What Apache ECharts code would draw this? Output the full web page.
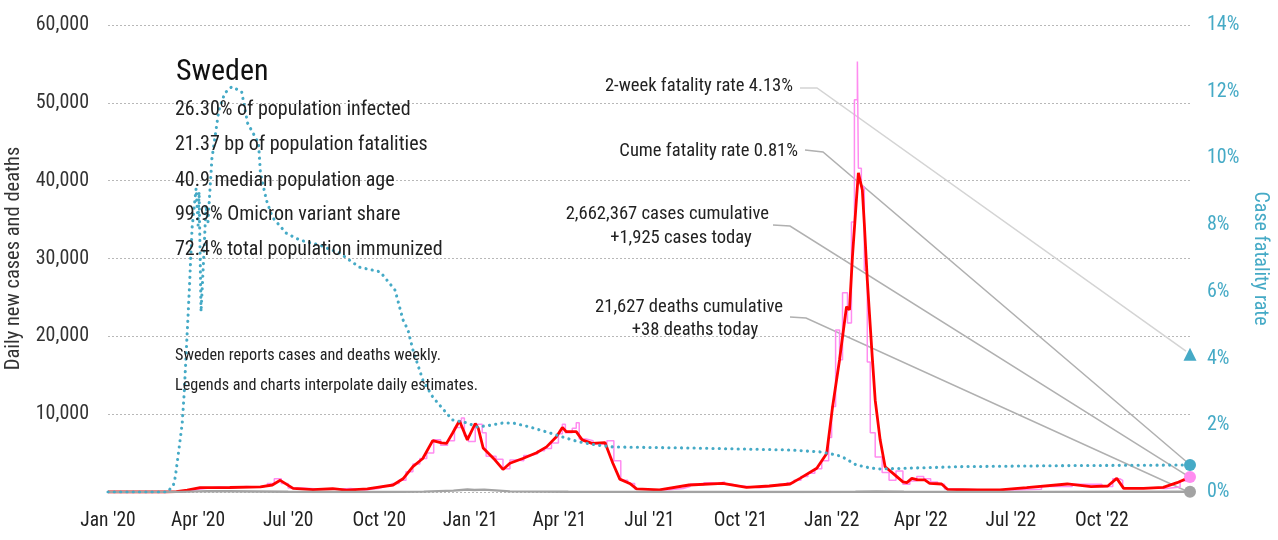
<!DOCTYPE html>
<html>
<head>
<meta charset="utf-8">
<script src="https://cdn.jsdelivr.net/npm/echarts@6/dist/echarts.min.js"></script>
<style>
  html, body { margin: 0; padding: 0; background: #ffffff; }
  #chart { width: 1278px; height: 540px; }
</style>
</head>
<body>
<div id="chart"></div>
<script>
// Sweden: daily new cases (raw weekly-reported and smoothed), daily deaths, case fatality rate

const FONT_FAMILY = '"Roboto Condensed", "DejaVu Sans Condensed", "Roboto", sans-serif';

const monthNames = ['Jan', 'Feb', 'Mar', 'Apr', 'May', 'Jun', 'Jul', 'Aug', 'Sep', 'Oct', 'Nov', 'Dec'];
const leftTicks = [0, 10000, 20000, 30000, 40000, 50000, 60000];
const rightTicks = [0, 2, 4, 6, 8, 10, 12, 14];

// Daily new cases, 7-day average
const casesAvg = [
  ['2020-01-01', 0], ['2020-02-27', 0], ['2020-03-10', 50], ['2020-03-21', 250],
  ['2020-04-03', 550], ['2020-05-03', 580], ['2020-06-03', 650], ['2020-06-15', 900],
  ['2020-06-23', 1500], ['2020-07-06', 470], ['2020-07-26', 300], ['2020-08-15', 420],
  ['2020-08-29', 250], ['2020-09-19', 400], ['2020-09-29', 600], ['2020-10-15', 900],
  ['2020-10-25', 1700], ['2020-11-04', 3250], ['2020-11-14', 4300], ['2020-11-24', 6600],
  ['2020-12-03', 6300], ['2020-12-08', 6250], ['2020-12-14', 7550], ['2020-12-21', 9150],
  ['2020-12-29', 6700], ['2021-01-06', 8800], ['2021-01-09', 8200], ['2021-01-14', 5650],
  ['2021-01-21', 4750], ['2021-01-26', 4100], ['2021-02-03', 2900], ['2021-02-10', 3700],
  ['2021-02-23', 4300], ['2021-03-09', 5050], ['2021-03-19', 5800], ['2021-03-29', 7100],
  ['2021-04-04', 8300], ['2021-04-08', 7750], ['2021-04-18', 7750], ['2021-04-24', 6700],
  ['2021-05-04', 6250], ['2021-05-17', 6350], ['2021-05-25', 3700], ['2021-06-01', 1650],
  ['2021-06-11', 1100], ['2021-06-18', 400], ['2021-07-11', 260], ['2021-08-10', 900],
  ['2021-09-13', 1100], ['2021-10-07', 600], ['2021-10-30', 770], ['2021-11-20', 1030],
  ['2021-11-30', 1750], ['2021-12-17', 3050], ['2021-12-27', 4950], ['2022-01-02', 11000],
  ['2022-01-09', 17000], ['2022-01-16', 23800], ['2022-01-19', 23400], ['2022-01-22', 30200],
  ['2022-01-26', 37500], ['2022-01-28', 41000], ['2022-02-01', 38800], ['2022-02-03', 34500],
  ['2022-02-06', 27250], ['2022-02-11', 17400], ['2022-02-14', 11800], ['2022-02-19', 6700],
  ['2022-02-24', 3250], ['2022-03-04', 2400], ['2022-03-14', 1300], ['2022-03-18', 1200],
  ['2022-03-23', 1750], ['2022-03-29', 1550], ['2022-04-05', 1550], ['2022-04-10', 1100],
  ['2022-04-22', 1030], ['2022-04-28', 350], ['2022-05-28', 260], ['2022-06-20', 260],
  ['2022-07-17', 550], ['2022-08-27', 1030], ['2022-09-20', 680], ['2022-10-07', 770],
  ['2022-10-16', 1750], ['2022-10-23', 470], ['2022-11-12', 470], ['2022-12-02', 600],
  ['2022-12-16', 1200], ['2022-12-29', 1925]
];

// Daily new cases as reported (weekly steps)
const casesRaw = [
  ['2020-01-01', 0], ['2020-03-01', 0], ['2020-03-15', 200], ['2020-03-25', 450],
  ['2020-04-08', 650], ['2020-04-22', 550], ['2020-05-06', 700], ['2020-05-20', 600],
  ['2020-06-03', 800], ['2020-06-10', 1100], ['2020-06-17', 1700], ['2020-06-24', 1100],
  ['2020-07-01', 500], ['2020-07-15', 350], ['2020-08-05', 350], ['2020-08-19', 450],
  ['2020-09-02', 250], ['2020-09-16', 450], ['2020-09-30', 700], ['2020-10-07', 800],
  ['2020-10-14', 1100], ['2020-10-21', 1500], ['2020-10-28', 2600], ['2020-11-04', 3600],
  ['2020-11-11', 4300], ['2020-11-18', 5000], ['2020-11-25', 6700], ['2020-12-02', 6000],
  ['2020-12-09', 6600], ['2020-12-16', 8300], ['2020-12-23', 9500], ['2020-12-26', 7200],
  ['2020-12-30', 6500], ['2021-01-06', 8700], ['2021-01-13', 7600], ['2021-01-17', 4600],
  ['2021-01-27', 4200], ['2021-02-03', 3000], ['2021-02-10', 4100], ['2021-02-17', 4000],
  ['2021-02-24', 4700], ['2021-03-03', 4900], ['2021-03-10', 5300], ['2021-03-17', 5600],
  ['2021-03-24', 6300], ['2021-03-31', 7500], ['2021-04-04', 8700], ['2021-04-07', 7600],
  ['2021-04-14', 8200], ['2021-04-18', 8900], ['2021-04-21', 6800], ['2021-04-28', 6600],
  ['2021-05-05', 6200], ['2021-05-12', 6100], ['2021-05-19', 6600], ['2021-05-26', 4000],
  ['2021-06-02', 1500], ['2021-06-09', 1100], ['2021-06-16', 400], ['2021-06-23', 250],
  ['2021-07-07', 300], ['2021-07-21', 450], ['2021-08-04', 700], ['2021-08-11', 1000],
  ['2021-08-18', 900], ['2021-08-25', 1200], ['2021-09-01', 1100], ['2021-09-08', 1300],
  ['2021-09-15', 1000], ['2021-09-22', 800], ['2021-09-29', 750], ['2021-10-06', 550],
  ['2021-10-20', 650], ['2021-10-27', 800], ['2021-11-03', 1000], ['2021-11-10', 900],
  ['2021-11-17', 1200], ['2021-11-24', 1500], ['2021-12-01', 2000], ['2021-12-08', 2400],
  ['2021-12-15', 3000], ['2021-12-22', 4000], ['2021-12-29', 7000], ['2022-01-01', 11000],
  ['2022-01-05', 20800], ['2022-01-09', 17000], ['2022-01-12', 25600], ['2022-01-17', 21700],
  ['2022-01-21', 34700], ['2022-01-24', 50400], ['2022-01-27', 55300], ['2022-01-28', 41600],
  ['2022-01-31', 39200], ['2022-02-03', 28500], ['2022-02-06', 16700], ['2022-02-09', 7600],
  ['2022-02-14', 4500], ['2022-02-21', 2500], ['2022-02-28', 1500], ['2022-03-07', 2700],
  ['2022-03-14', 1000], ['2022-03-21', 1400], ['2022-03-28', 2000], ['2022-04-04', 1700],
  ['2022-04-11', 1300], ['2022-04-18', 1000], ['2022-04-25', 400], ['2022-05-02', 300],
  ['2022-06-01', 250], ['2022-07-01', 350], ['2022-08-01', 700], ['2022-09-01', 1000],
  ['2022-10-01', 700], ['2022-10-12', 1700], ['2022-10-19', 1500], ['2022-10-22', 500],
  ['2022-11-15', 450], ['2022-12-05', 650], ['2022-12-19', 1400], ['2022-12-29', 1925]
];

// Daily deaths
const deaths = [
  ['2020-01-01', 0], ['2020-03-15', 10], ['2020-04-10', 110], ['2020-05-01', 90],
  ['2020-06-01', 60], ['2020-07-01', 30], ['2020-08-01', 8], ['2020-10-01', 4],
  ['2020-11-15', 50], ['2020-12-15', 180], ['2020-12-29', 320], ['2021-01-05', 260],
  ['2021-01-15', 300], ['2021-02-10', 80], ['2021-04-10', 30], ['2021-06-01', 12],
  ['2021-08-01', 3], ['2021-12-01', 8], ['2022-01-25', 40], ['2022-02-15', 70],
  ['2022-03-15', 40], ['2022-05-01', 15], ['2022-08-01', 10], ['2022-12-29', 38]
];

// Case fatality rate, percent
const fatalityRate = [
  ['2020-01-01', 0], ['2020-03-01', 0], ['2020-03-07', 0.2], ['2020-03-09', 0.45],
  ['2020-03-13', 1.36], ['2020-03-16', 2.07], ['2020-03-18', 2.97], ['2020-03-23', 5.96],
  ['2020-03-26', 7.94], ['2020-03-30', 9.1], ['2020-04-01', 8.0], ['2020-04-02', 9.0],
  ['2020-04-04', 5.4], ['2020-04-07', 7.2], ['2020-04-09', 8.6], ['2020-04-11', 8.1],
  ['2020-04-15', 10.0], ['2020-04-22', 11.45], ['2020-04-28', 11.96], ['2020-05-05', 12.15],
  ['2020-05-15', 12.0], ['2020-05-21', 11.06], ['2020-06-01', 10.46], ['2020-06-03', 9.56],
  ['2020-06-09', 8.75], ['2020-06-15', 8.24], ['2020-06-29', 7.76], ['2020-07-13', 7.55],
  ['2020-08-02', 7.4], ['2020-08-22', 7.16], ['2020-09-11', 6.74], ['2020-10-02', 6.6],
  ['2020-10-17', 6.05], ['2020-10-25', 5.16], ['2020-10-30', 4.86], ['2020-11-04', 4.26],
  ['2020-11-14', 3.36], ['2020-11-24', 2.85], ['2020-12-04', 2.5], ['2020-12-14', 2.16],
  ['2020-12-29', 2.07], ['2021-01-08', 1.95], ['2021-01-21', 2.0], ['2021-02-03', 2.07],
  ['2021-02-13', 2.07], ['2021-03-02', 1.95], ['2021-03-19', 1.8], ['2021-04-04', 1.65],
  ['2021-04-21', 1.5], ['2021-05-08', 1.41], ['2021-05-25', 1.35], ['2021-08-10', 1.32],
  ['2021-11-20', 1.26], ['2021-12-21', 1.2], ['2022-01-06', 1.11], ['2022-01-12', 1.05],
  ['2022-01-26', 0.81], ['2022-02-09', 0.72], ['2022-02-19', 0.69], ['2022-05-11', 0.76],
  ['2022-08-20', 0.79], ['2022-12-29', 0.81]
];

// Latest values shown at the right edge
const lastDate = '2022-12-29';
const twoWeekRate = 4.13;
const cumeRate = 0.81;
const casesToday = 1925;
const deathsToday = 38;

const statLines = [
  '26.30% of population infected',
  '21.37 bp of population fatalities',
  '40.9 median population age',
  '99.9% Omicron variant share',
  '72.4% total population immunized'
];
const noteLines = [
  'Sweden reports cases and deaths weekly.',
  'Legends and charts interpolate daily estimates.'
];

const BLUE = '#45aac6';
const PINK = '#ff8cf0';
const RED = '#ff0000';
const GREY = '#a3a3a3';
const INK = '#222222';

const chart = echarts.init(document.getElementById('chart'), null, { renderer: 'canvas' });

const option = {
  animation: false,
  backgroundColor: '#ffffff',
  textStyle: { fontFamily: FONT_FAMILY },
  grid: { left: 108, right: 88, top: 25, bottom: 48, containLabel: false, outerBoundsMode: 'none' },
  xAxis: {
    type: 'time',
    min: +new Date(2020, 0, 1),
    max: +new Date(2022, 11, 29),
    splitNumber: 12,
    axisLine: { show: false },
    axisTick: { show: false },
    splitLine: { show: false },
    axisLabel: {
      color: INK,
      fontSize: 19.5,
      fontFamily: FONT_FAMILY,
      margin: 19,
      hideOverlap: false,
      formatter: function (val) {
        const d = new Date(val);
        if (d.getDate() !== 1 || d.getMonth() % 3 !== 0) return '';
        return monthNames[d.getMonth()] + " '" + String(d.getFullYear()).slice(2);
      }
    }
  },
  yAxis: [
    {
      type: 'value',
      min: leftTicks[0],
      max: leftTicks[leftTicks.length - 1],
      interval: leftTicks[1] - leftTicks[0],
      name: 'Daily new cases and deaths',
      nameLocation: 'middle',
      nameGap: 75,
      nameRotate: 90,
      nameTextStyle: { color: '#333', fontSize: 20.5, fontFamily: FONT_FAMILY },
      axisLine: { show: false },
      axisTick: { show: false },
      axisLabel: {
        color: '#333',
        fontSize: 20,
        fontFamily: FONT_FAMILY,
        margin: 19,
        formatter: function (v) { return v === 0 ? '' : v.toLocaleString('en-US'); }
      },
      splitLine: { show: true, lineStyle: { color: '#b8b8b8', type: [2, 2], width: 1 } }
    },
    {
      type: 'value',
      position: 'right',
      min: rightTicks[0],
      max: rightTicks[rightTicks.length - 1],
      interval: rightTicks[1] - rightTicks[0],
      name: 'Case fatality rate',
      nameLocation: 'middle',
      nameGap: 55,
      nameRotate: -90,
      nameTextStyle: { color: BLUE, fontSize: 20, fontFamily: FONT_FAMILY },
      axisLine: { show: false },
      axisTick: { show: false },
      axisLabel: {
        color: BLUE,
        fontSize: 20,
        fontFamily: FONT_FAMILY,
        margin: 17,
        formatter: '{value}%'
      },
      splitLine: { show: false }
    }
  ],
  series: [
    {
      name: 'Cases reported',
      type: 'line',
      step: 'end',
      data: casesRaw,
      yAxisIndex: 0,
      symbol: 'none',
      lineStyle: { color: PINK, width: 1.5 },
      z: 2
    },
    {
      name: 'Cases 7-day average',
      type: 'line',
      data: casesAvg,
      yAxisIndex: 0,
      symbol: 'none',
      lineStyle: { color: RED, width: 2.8 },
      z: 3
    },
    {
      name: 'Deaths',
      type: 'line',
      data: deaths,
      yAxisIndex: 0,
      symbol: 'none',
      lineStyle: { color: GREY, width: 2.4 },
      z: 3
    },
    {
      name: 'Case fatality rate',
      type: 'line',
      data: fatalityRate,
      yAxisIndex: 1,
      symbol: 'none',
      lineStyle: { color: BLUE, width: 3.1, type: [0.1, 6.2], cap: 'round' },
      z: 4
    },
    {
      name: '2-week fatality rate',
      type: 'scatter',
      yAxisIndex: 1,
      data: [[lastDate, twoWeekRate]],
      symbol: 'triangle',
      symbolSize: 13,
      itemStyle: { color: BLUE, opacity: 1 },
      z: 6
    },
    {
      name: 'Cume fatality rate',
      type: 'scatter',
      yAxisIndex: 1,
      data: [[lastDate, cumeRate]],
      symbol: 'circle',
      symbolSize: 12,
      itemStyle: { color: BLUE, opacity: 1 },
      z: 6
    },
    {
      name: 'Cases today',
      type: 'scatter',
      yAxisIndex: 0,
      data: [[lastDate, casesToday]],
      symbol: 'circle',
      symbolSize: 12,
      itemStyle: { color: PINK, opacity: 1 },
      z: 5
    },
    {
      name: 'Deaths today',
      type: 'scatter',
      yAxisIndex: 0,
      data: [[lastDate, deathsToday]],
      symbol: 'circle',
      symbolSize: 12,
      itemStyle: { color: GREY, opacity: 1 },
      z: 5
    }
  ]
};

chart.setOption(option);

// Text blocks and leader lines from each callout to its end-of-series marker
function px(yAxisIndex, value) {
  return chart.convertToPixel({ xAxisIndex: 0, yAxisIndex: yAxisIndex }, [lastDate, value]);
}

function txt(text, x, y, size, align, color) {
  return {
    type: 'text',
    x: x, y: y,
    silent: true,
    z: 10,
    style: {
      text: text,
      fill: color || INK,
      font: size + 'px ' + FONT_FAMILY,
      align: align || 'left',
      verticalAlign: 'middle'
    }
  };
}

function leader(points, color) {
  return {
    type: 'polyline',
    silent: true,
    z: 1,
    shape: { points: points },
    style: { stroke: color, lineWidth: 1.5, fill: null }
  };
}

const pTwoWeek = px(1, twoWeekRate);
const pCume = px(1, cumeRate);
const pCases = px(0, casesToday);
const pDeaths = px(0, deathsToday);

const graphics = [];
graphics.push(txt('Sweden', 176, 72, 30, 'left', '#111'));
const statY = [110, 145, 181, 215, 250];
statLines.forEach(function (s, i) { graphics.push(txt(s, 175, statY[i], 20, 'left')); });
graphics.push(txt(noteLines[0], 175, 356, 16.2, 'left'));
graphics.push(txt(noteLines[1], 175, 386, 16.2, 'left'));

graphics.push(txt('2-week fatality rate 4.13%', 793, 86, 18.6, 'right'));
graphics.push(txt('Cume fatality rate 0.81%', 798, 151, 18.6, 'right'));
graphics.push(txt('2,662,367 cases cumulative', 769, 214, 18.6, 'right'));
graphics.push(txt('+1,925 cases today', 681, 238, 18.6, 'center'));
graphics.push(txt('21,627 deaths cumulative', 783, 307, 18.6, 'right'));
graphics.push(txt('+38 deaths today', 695, 330, 18.6, 'center'));

graphics.push(leader([[800, 88], [817, 88], [pTwoWeek[0] - 4, pTwoWeek[1] - 3]], '#d4d4d4'));
graphics.push(leader([[805, 150], [823, 152], [pCume[0] - 2, pCume[1] - 2]], '#b0b0b0'));
graphics.push(leader([[773, 225], [790, 226], [pCases[0] - 2, pCases[1] - 1]], '#b0b0b0'));
graphics.push(leader([[790, 317], [806, 318], [pDeaths[0] - 2, pDeaths[1]]], '#b0b0b0'));

chart.setOption({ graphic: graphics });
</script>
</body>
</html>
